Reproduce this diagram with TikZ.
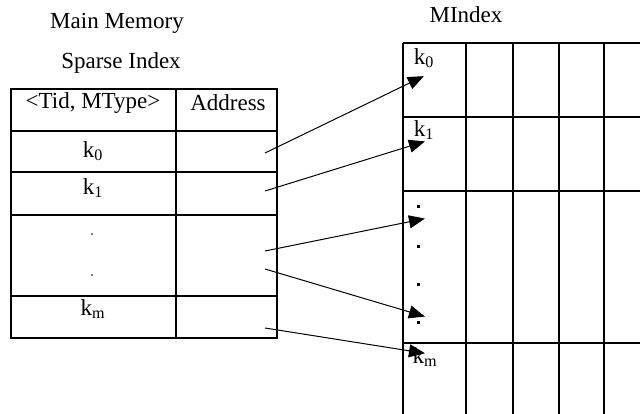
\documentclass[tikz,border=0pt]{standalone}
\usepackage{fontspec}
\setmainfont{Liberation Serif}
\usetikzlibrary{arrows.meta}
\begin{document}
\begin{tikzpicture}[x=1pt,y=-1pt,
  lbl/.style={font=\fontsize{23}{27}\selectfont, inner sep=0pt},
  grid/.style={line width=1.3pt},
  link/.style={line width=1pt, -{Triangle[length=16pt,width=13pt]}, shorten >=-2pt},
]
\useasboundingbox (0,0) rectangle (640,414);

% titles
\node[lbl] (mm) at (117,23) {Main Memory};
\node[lbl] (si) at (121,63) {Sparse Index};
\node[lbl] (mi) at (466,15) {MIndex};

% sparse index table
\draw[grid] (11,89) rectangle (277,338);
\draw[grid] (176,89) -- (176,338);
\foreach \y in {131,172,215,296} \draw[grid] (11,\y) -- (277,\y);
\node[lbl] (hk) at (93,103) {<Tid, MType>};
\node[lbl] (ha) at (228,103) {Address};
\node[lbl] (lk0) at (93,151) {k\textsubscript{0}};
\node[lbl] (lk1) at (93,188) {k\textsubscript{1}};
\node[lbl] (lkm) at (93,309) {k\textsubscript{m}};
\fill (92,234) circle (0.8);
\fill (92,275) circle (0.8);

% MIndex grid
\foreach \x in {403,466,513,559,604} \draw[grid] (\x,43) -- (\x,414);
\foreach \y in {43,117,191,343} \draw[grid] (403,\y) -- (640,\y);
\node[lbl] (rk0) at (424,58) {k\textsubscript{0}};
\node[lbl] (rk1) at (424,130) {k\textsubscript{1}};
\node[lbl] (rkm) at (425,357) {k\textsubscript{m}};
\foreach \y in {207,247,284,322} \fill (416.5,\y-1.5) rectangle ++(3,3);

% pointer endpoints
\coordinate (a0) at (265,153);
\coordinate (a1) at (265,191);
\coordinate (a2) at (265,251);
\coordinate (a3) at (265,269);
\coordinate (a4) at (265,328);
\coordinate (b0) at (422,77);
\coordinate (b1) at (423,142);
\coordinate (b2) at (423,219);
\coordinate (b3) at (423,316);
\coordinate (b4) at (423,353);

\draw[link] (a0) -- (b0);
\draw[link] (a1) -- (b1);
\draw[link] (a2) -- (b2);
\draw[link] (a3) -- (b3);
\draw[link] (a4) -- (b4);
\end{tikzpicture}
\end{document}
